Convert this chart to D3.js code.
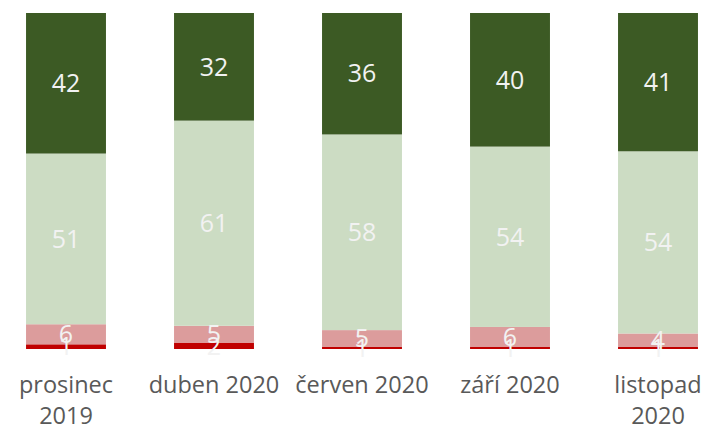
<html>

<head>
	<title>D3</title>
	<style>

body {
	margin: 0;
	background: #fff;
}

svg {
	display: block;
	background: #fff;
}

.seg-label {
	font-family: "Open Sans", sans-serif;
	font-size: 25px;
	fill: #f2f2f2;
	text-anchor: middle;
}

.tick-label {
	font-family: "Open Sans", sans-serif;
	font-size: 23.5px;
	fill: #595959;
	text-anchor: middle;
}
</style>
</head>

<body>
	<div id="div"></div>

	<script src="https://d3js.org/d3.v7.min.js"></script>

	<script>

// categories (line breaks as shown under the bars)
const categories = ['prosinec\n2019', 'duben 2020', 'červen 2020', 'září 2020', 'listopad\n2020'];

// series, bottom to top
const seriesKeys = ['red', 'pink', 'light', 'dark'];
const redValues = [1.4, 1.9, 0.6, 0.6, 0.6];
const pinkValues = [6, 5, 5, 6, 4];
const lightValues = [51, 61, 58, 54, 54];
const darkValues = [42, 32, 36, 40, 41];

const colors = {
	red: '#c00000',
	pink: '#dc9c9c',
	light: '#ccdcc3',
	dark: '#3c5a24'
};

const width = 708;
const height = 432;

const svg = d3.select('#div').append('svg')
	.attr('width', width)
	.attr('height', height);

// table the stack needs
const rows = categories.map((c, i) => ({
	cat: c,
	red: redValues[i],
	pink: pinkValues[i],
	light: lightValues[i],
	dark: darkValues[i]
}));

const stack = d3.stack()
	.keys(seriesKeys)
	.offset(d3.stackOffsetExpand);
const layers = stack(rows);

const x = d3.scaleBand()
	.domain(categories)
	.range([-8, 732])
	.paddingInner(0.46)
	.paddingOuter(0.23);

const y = d3.scaleLinear()
	.domain([0, 1])
	.range([349, 13]);

const g = svg.append('g');

// bars
const layer = g.selectAll('g.layer')
	.data(layers)
	.enter()
	.append('g')
	.attr('class', 'layer')
	.attr('fill', d => colors[d.key]);

layer.selectAll('rect')
	.data(d => d)
	.enter()
	.append('rect')
	.attr('x', d => x(d.data.cat))
	.attr('width', x.bandwidth())
	.attr('y', d => y(d[1]))
	.attr('height', d => y(d[0]) - y(d[1]));

// labels in the middle of each segment (bottom first, so upper ones sit on top)
const labels = g.append('g');
layers.forEach(l => {
	labels.selectAll('text.k-' + l.key)
		.data(l)
		.enter()
		.append('text')
		.attr('class', 'seg-label k-' + l.key)
		.attr('x', d => x(d.data.cat) + x.bandwidth() / 2)
		.attr('y', d => y((d[0] + d[1]) / 2))
		.attr('dy', '0.35em')
		.text(d => Math.round(d.data[l.key]));
});

// category labels, wrapped as in the picture
const ticks = svg.append('g');
categories.forEach(c => {
	const t = ticks.append('text')
		.attr('class', 'tick-label')
		.attr('x', x(c) + x.bandwidth() / 2)
		.attr('y', 393);
	c.split('\n').forEach((line, i) => {
		t.append('tspan')
			.attr('x', x(c) + x.bandwidth() / 2)
			.attr('dy', i === 0 ? 0 : 31)
			.text(line);
	});
});

</script>
</body>
</html>
